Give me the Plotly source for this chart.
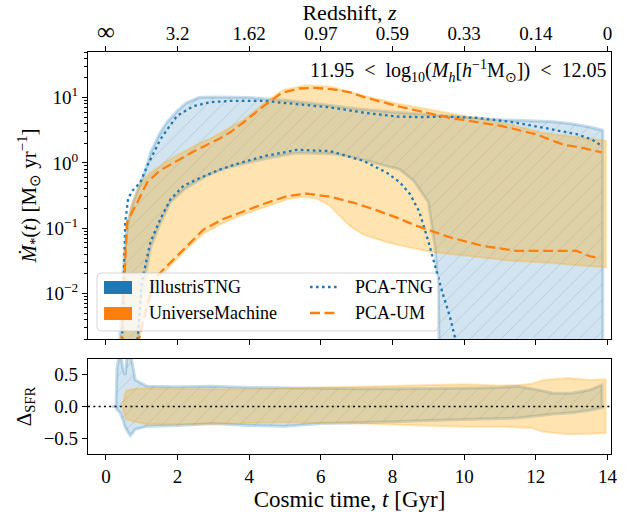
import numpy as np
import plotly.graph_objects as go

# ---- data (log10 of SFR in Msun/yr vs cosmic time in Gyr) ----
t_tng_hi = [0.38, 0.45, 0.5, 0.6, 0.75, 0.9, 1.1, 1.25, 1.5, 1.7, 2.0, 2.25, 2.6, 3.0, 3.5, 4.0, 4.5, 5.0,
            6.0, 7.0, 8.0, 9.0, 10.0, 11.0, 12.0, 12.5, 13.0, 13.5, 13.87]
lg_tng_hi = [-2.8, -2.0, -1.5, -0.95, -0.62, -0.4, -0.12, 0.16, 0.45, 0.62, 0.8, 0.92, 1.0, 1.01, 1.01, 1.0, 0.98, 0.96,
             0.9, 0.83, 0.78, 0.74, 0.69, 0.66, 0.64, 0.63, 0.6, 0.55, 0.5]
t_tng_lo = [0.38, 0.9, 1.0, 1.25, 1.5, 1.8, 2.2, 2.8, 3.4, 4.4, 5.3, 6.3, 6.8, 7.5, 8.2, 8.6, 9.0, 9.19, 9.28, 9.3, 13.87]
lg_tng_lo = [-2.8, -2.8, -2.0, -1.3, -0.95, -0.6, -0.4, -0.2, -0.07, 0.06, 0.15, 0.14, 0.1, 0.0, -0.1, -0.28, -0.6,
             -1.3, -2.0, -2.8, -2.8]

t_um_hi = [0.49, 0.54, 0.68, 0.96, 1.24, 1.8, 2.4, 3.0, 3.5, 3.84, 4.03, 4.49, 4.96, 5.6, 6.26, 7.19, 8.12, 8.8,
           9.42, 10.35, 11.28, 12.2, 13.14, 13.96]
lg_um_hi = [-2.8, -1.32, -0.71, -0.3, -0.15, 0.06, 0.24, 0.4, 0.55, 0.66, 0.74, 0.95, 1.12, 1.19, 1.17, 1.03, 0.91, 0.84,
            0.78, 0.68, 0.59, 0.46, 0.39, 0.34]
t_um_lo = [0.49, 0.88, 1.1, 1.4, 1.8, 2.26, 2.73, 3.28, 3.75, 4.4, 5.05, 5.5, 5.9, 6.26, 6.5, 6.82, 7.19, 7.75, 8.5,
           9.14, 10.5, 11.3, 12.36, 13.14, 13.96]
lg_um_lo = [-2.8, -2.8, -2.2, -1.8, -1.57, -1.32, -1.08, -0.92, -0.81, -0.68, -0.56, -0.52, -0.55, -0.66, -0.8, -0.97,
            -1.1, -1.2, -1.3, -1.37, -1.45, -1.5, -1.53, -1.57, -1.6]

t_pca_tng_hi = [0.45, 0.5, 0.54, 0.62, 0.73, 0.96, 1.15, 1.52, 1.98, 2.45, 2.91, 3.5, 4.4, 5.33, 6.26, 7.19, 8.12,
                8.8, 9.42, 10.35, 11.28, 12.2, 13.14, 13.56, 13.84]
lg_pca_tng_hi = [-2.8, -1.5, -0.91, -0.55, -0.43, -0.30, -0.05, 0.36, 0.72, 0.87, 0.93, 0.95, 0.95, 0.90, 0.85, 0.77,
                 0.71, 0.70, 0.71, 0.69, 0.63, 0.54, 0.44, 0.36, 0.26]
t_pca_tng_lo = [0.87, 1.0, 1.24, 1.52, 1.8, 2.17, 2.63, 3.19, 3.75, 4.4, 5.33, 6.26, 7.19, 7.84, 8.21, 8.49, 8.75,
                9.0, 9.2, 9.4, 9.6, 9.8]
lg_pca_tng_lo = [-2.8, -1.83, -1.22, -0.86, -0.56, -0.35, -0.23, -0.10, 0.0, 0.1, 0.2, 0.18, 0.03, -0.15, -0.30,
                 -0.48, -0.75, -1.2, -1.6, -2.0, -2.35, -2.8]

t_pca_um_hi = [0.43, 0.54, 0.59, 0.87, 1.15, 1.5, 2.0, 2.4, 2.8, 3.2, 3.5, 3.84, 4.4, 4.9, 5.4, 5.8, 6.3, 6.82,
               7.19, 8.21, 9.6, 11.0, 12.0, 12.76, 13.3, 13.84]
lg_pca_um_hi = [-2.8, -1.43, -0.91, -0.61, -0.30, -0.12, 0.04, 0.16, 0.27, 0.38, 0.48, 0.62, 0.87, 1.07, 1.14, 1.15,
                1.13, 1.08, 1.01, 0.86, 0.69, 0.57, 0.44, 0.28, 0.23, 0.16]
t_pca_um_lo = [0.88, 1.15, 1.43, 1.8, 2.26, 2.73, 3.28, 3.75, 4.4, 5.05, 5.61, 6.26, 6.91, 7.47, 8.12, 8.7, 9.6,
               10.5, 11.47, 12.58, 13.14, 13.5, 13.8]
lg_pca_um_lo = [-2.8, -2.19, -1.73, -1.53, -1.27, -1.02, -0.86, -0.76, -0.63, -0.51, -0.47, -0.52, -0.61, -0.71,
                -0.84, -0.97, -1.14, -1.27, -1.35, -1.35, -1.35, -1.43, -1.46]

# residual panel
t_d_tng = [0.17, 0.28, 0.31, 0.40, 0.47, 0.54, 0.61, 0.68, 0.82, 1.15, 2, 3, 4, 5, 6, 7, 8, 9, 10, 11, 11.5, 12,
           12.5, 13, 13.5, 13.85]
d_tng_hi = [0.0, 0.0, 0.6, 0.9, 0.6, 0.5, 0.9, 0.85, 0.42, 0.32, 0.31, 0.32, 0.3, 0.29, 0.29, 0.28, 0.28, 0.28, 0.29,
            0.3, 0.32, 0.27, 0.21, 0.21, 0.26, 0.34]
d_tng_lo = [0.0, 0.0, -0.05, -0.1, -0.2, -0.33, -0.4, -0.46, -0.36, -0.31, -0.3, -0.27, -0.3, -0.31, -0.27, -0.25,
            -0.24, -0.22, -0.2, -0.19, -0.18, -0.15, -0.12, -0.1, -0.06, -0.02]
t_d_um = [0.45, 0.56, 0.8, 1.15, 2, 3, 4, 5, 6, 7, 8, 9, 10, 11, 11.5, 11.9, 12.2, 12.9, 13.5, 13.95]
d_um_hi = [0.0, 0.25, 0.28, 0.29, 0.28, 0.27, 0.27, 0.29, 0.3, 0.31, 0.32, 0.34, 0.35, 0.33, 0.34, 0.36, 0.42, 0.45,
           0.42, 0.43]
d_um_lo = [0.0, -0.2, -0.24, -0.28, -0.28, -0.28, -0.26, -0.25, -0.26, -0.27, -0.28, -0.3, -0.32, -0.32, -0.33,
           -0.34, -0.4, -0.44, -0.43, -0.42]

time_ticks = [0, 2, 4, 6, 8, 10, 12, 14]
z_labels = ['<span style="font-size:25px">∞</span>', '3.2', '1.62', '0.97', '0.59', '0.33', '0.14', '0']

FONT = 'Liberation Serif'
BLUE = '#1f77b4'
ORANGE = '#ff7f0e'


def band(t_hi, y_hi, t_lo, y_lo):
    return list(t_hi) + list(t_lo)[::-1], list(y_hi) + list(y_lo)[::-1]


def lin(lg):
    return list(10 ** np.array(lg))


fig = go.Figure()

hatch = dict(shape='/', size=11, solidity=0.08, fgcolor='rgba(60,100,140,0.45)',
             bgcolor='rgba(31,119,180,0.2)')

# top panel bands
x, y = band(t_tng_hi, lin(lg_tng_hi), t_tng_lo, lin(lg_tng_lo))
fig.add_trace(go.Scatter(x=x, y=y, mode='lines', fill='toself', fillcolor='rgba(31,119,180,0.2)',
                         fillpattern=hatch, line=dict(color='rgba(31,119,180,0.25)', width=3),
                         showlegend=False, hoverinfo='skip', xaxis='x', yaxis='y'))
x, y = band(t_um_hi, lin(lg_um_hi), t_um_lo, lin(lg_um_lo))
fig.add_trace(go.Scatter(x=x, y=y, mode='lines', fill='toself', fillcolor='rgba(255,165,0,0.3)',
                         line=dict(color='rgba(255,165,0,0.25)', width=2),
                         showlegend=False, hoverinfo='skip', xaxis='x', yaxis='y'))

dot = dict(color=BLUE, width=2.3, dash='2.6px,3.4px')
dash = dict(color=ORANGE, width=2.3, dash='10px,4.5px')
for tt, lg in [(t_pca_tng_hi, lg_pca_tng_hi), (t_pca_tng_lo, lg_pca_tng_lo)]:
    fig.add_trace(go.Scatter(x=tt, y=lin(lg), mode='lines', line=dot, showlegend=False,
                             xaxis='x', yaxis='y'))
for tt, lg in [(t_pca_um_hi, lg_pca_um_hi), (t_pca_um_lo, lg_pca_um_lo)]:
    fig.add_trace(go.Scatter(x=tt, y=lin(lg), mode='lines', line=dash, showlegend=False,
                             xaxis='x', yaxis='y'))

# residual panel
x, y = band(t_d_tng, d_tng_hi, t_d_tng, d_tng_lo)
fig.add_trace(go.Scatter(x=x, y=y, mode='lines', fill='toself', fillcolor='rgba(31,119,180,0.2)',
                         fillpattern=hatch, line=dict(color='rgba(31,119,180,0.25)', width=3),
                         showlegend=False, hoverinfo='skip', xaxis='x2', yaxis='y2'))
x, y = band(t_d_um, d_um_hi, t_d_um, d_um_lo)
fig.add_trace(go.Scatter(x=x, y=y, mode='lines', fill='toself', fillcolor='rgba(255,165,0,0.3)',
                         line=dict(color='rgba(255,165,0,0.25)', width=2),
                         showlegend=False, hoverinfo='skip', xaxis='x2', yaxis='y2'))

# plot area: x 88..611 px, y 52..454 px
L, R, T, B = 88, 611, 52, 454


def px(v):
    return (v - L) / (R - L)


def py(v):
    return (B - v) / (B - T)


shapes = [dict(type='line', xref='x2', yref='y2', x0=-0.5, x1=14.1, y0=0, y1=0,
               line=dict(color='black', width=1.6, dash='2px,3.3px'))]

# legend frame (rounded)
x0, x1, y0, y1 = px(97), px(438), py(331), py(273)
rx, ry = 4 / (R - L), 4 / (B - T)
path = (f'M{x0 + rx},{y0} L{x1 - rx},{y0} Q{x1},{y0} {x1},{y0 + ry} L{x1},{y1 - ry} Q{x1},{y1} {x1 - rx},{y1} '
        f'L{x0 + rx},{y1} Q{x0},{y1} {x0},{y1 - ry} L{x0},{y0 + ry} Q{x0},{y0} {x0 + rx},{y0} Z')
shapes.append(dict(type='path', xref='paper', yref='paper', path=path, layer='above',
                   fillcolor='rgba(255,255,255,0.8)', line=dict(color='rgba(204,204,204,0.8)', width=1)))
shapes.append(dict(type='rect', xref='paper', yref='paper', x0=px(104), x1=px(132), y0=py(294), y1=py(281),
                   fillcolor=BLUE, line=dict(width=0), layer='above'))
shapes.append(dict(type='rect', xref='paper', yref='paper', x0=px(104), x1=px(132), y0=py(320), y1=py(307),
                   fillcolor=ORANGE, line=dict(width=0), layer='above'))
shapes.append(dict(type='line', xref='paper', yref='paper', x0=px(310), x1=px(338), y0=py(287), y1=py(287),
                   line=dot, layer='above'))
shapes.append(dict(type='line', xref='paper', yref='paper', x0=px(310), x1=px(338), y0=py(313), y1=py(313),
                   line=dash, layer='above'))

annotations = []
for txt, xx, yy in [('IllustrisTNG', 147, 287), ('UniverseMachine', 147, 313),
                    ('PCA-TNG', 353, 287), ('PCA-UM', 353, 313)]:
    annotations.append(dict(text=txt, xref='paper', yref='paper', x=px(xx), y=py(yy), xanchor='left',
                            yanchor='middle', showarrow=False, font=dict(family=FONT, size=18, color='black')))
annotations.append(dict(text='11.95\u2002<\u2002log<sub>10</sub>(<i>M<sub>h</sub></i>[<i>h</i><sup>−1</sup>'
                             'M<sub>⊙</sub>])\u2002<\u200212.05',
                        xref='paper', yref='paper', x=px(608), y=py(71), xanchor='right', yanchor='middle',
                        showarrow=False, font=dict(family=FONT, size=20, color='black')))

axis_common = dict(showline=True, linecolor='black', linewidth=1.2, showgrid=False, zeroline=False,
                   automargin=False, ticks='outside', ticklen=5, tickwidth=1, tickcolor='black',
                   tickfont=dict(family=FONT, size=19, color='black'))

minor_vals = [k * 10.0 ** n for n in range(-3, 2) for k in range(2, 10)]

fig.update_layout(
    width=627, height=514,
    margin=dict(l=L, r=627 - R, t=T, b=514 - B),
    paper_bgcolor='white', plot_bgcolor='white',
    font=dict(family=FONT, size=19, color='black'),
    showlegend=False,
    xaxis=dict(axis_common, domain=[0, 1], range=[-0.5, 14.1], anchor='y', side='top', mirror='ticks',
               tickmode='array', tickvals=time_ticks, ticktext=z_labels, ticklabelstandoff=-2,
               title=dict(text='Redshift, <i>z</i>', font=dict(family=FONT, size=22), standoff=3)),
    yaxis=dict(axis_common, domain=[(B - 339) / (B - T), 1], type='log',
               range=[np.log10(2e-3), np.log10(50)], anchor='x', mirror=True,
               tickmode='array', tickvals=[1e-2, 1e-1, 1, 10],
               ticktext=['10<sup>−2</sup>', '10<sup>−1</sup>', '10<sup>0</sup>', '10<sup>1</sup>'],
               minor=dict(tickmode='array', tickvals=minor_vals, ticks='outside', ticklen=3,
                          tickcolor='black', tickwidth=0.8),
               title=dict(text='<i>Ṁ</i><sub>*</sub>(<i>t</i>) [M<sub>⊙</sub> yr<sup>−1</sup>]',
                          font=dict(family=FONT, size=21), standoff=2)),
    xaxis2=dict(axis_common, domain=[0, 1], range=[-0.5, 14.1], anchor='y2', mirror=True,
                tickmode='array', tickvals=time_ticks, ticktext=[str(v) for v in time_ticks],
                title=dict(text='Cosmic time, <i>t</i> [Gyr]', font=dict(family=FONT, size=23), standoff=2)),
    yaxis2=dict(axis_common, domain=[0, (B - 359) / (B - T)], range=[-0.75, 0.75], anchor='x2', mirror=True,
                tickmode='array', tickvals=[-0.5, 0, 0.5], ticktext=['−0.5', '0.0', '0.5'],
                title=dict(text='Δ<sub>SFR</sub>', font=dict(family=FONT, size=21), standoff=6)),
    shapes=shapes,
    annotations=annotations,
)

# the page body has a default 8px margin; drop it so the figure sits at the window origin
fig.write_html("out.html", config={'displayModeBar': False},
               post_script="document.body.style.margin='0px';")
